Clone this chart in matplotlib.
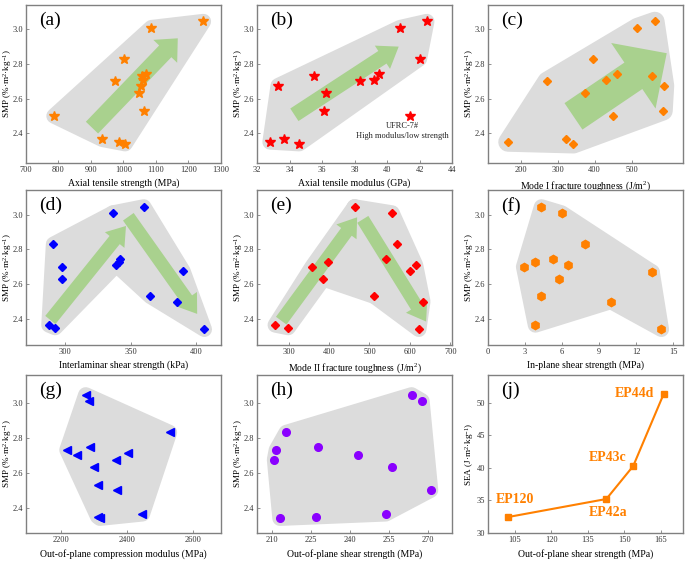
import numpy as np
import matplotlib
matplotlib.use('Agg')
import matplotlib.pyplot as plt
from matplotlib.patches import Polygon, FancyArrowPatch

plt.rcParams['font.family'] = ['Liberation Serif', 'DejaVu Serif']
plt.rcParams['mathtext.fontset'] = 'custom'
plt.rcParams['mathtext.rm'] = 'Liberation Serif'
plt.rcParams['mathtext.it'] = 'Liberation Serif:italic'
plt.rcParams['mathtext.bf'] = 'Liberation Serif:bold'

# ---------------- data ----------------
smp14 = [3.045, 3.01, 2.83, 2.745, 2.73, 2.71, 2.70, 2.675, 2.63, 2.53, 2.50, 2.365, 2.35, 2.34]

ats_a = [1246, 1086, 1003, 1068, 1056, 1059, 975, 1053, 1047, 1064, 786, 935, 986, 1005]
atm_b = [42.45, 40.8, 42.0, 39.5, 35.5, 39.2, 38.35, 33.3, 36.25, 36.15, 41.4, 33.65, 32.8, 34.6]
g1c_c = [563, 516, 397, 461, 555, 431, 272, 589, 373, 585, 450, 324, 166, 343]
ilss_d = [360, 336.5, 291, 342, 340.8, 339, 297.7, 390, 297.7, 365, 385, 287.5, 292.3, 406.3]
g2c_e = [463, 556, 568, 541, 397, 614, 358, 601, 386, 512, 632, 267, 299, 622]

smp_f = [3.045, 3.01, 2.83, 2.745, 2.73, 2.71, 2.70, 2.67, 2.63, 2.53, 2.50, 2.365, 2.34]
ips_f = [4.33, 5.97, 7.84, 5.23, 3.84, 6.47, 2.88, 13.3, 5.75, 4.27, 9.95, 3.84, 14.05]

ocm_g = [2276, 2285, 2530, 2289, 2219, 2403, 2251, 2369, 2302, 2313, 2372, 2448, 2312, 2319]

smp_h = [3.045, 3.01, 2.83, 2.745, 2.73, 2.70, 2.675, 2.63, 2.50, 2.365, 2.35, 2.34]
oss_h = [263.7, 267.7, 215.6, 227.7, 211.8, 243.3, 211.1, 256.2, 271.0, 253.8, 227.0, 213.2]

names_j = ['EP120', 'EP42a', 'EP43c', 'EP44d']
oss_j = [102.4, 142.6, 153.6, 166.1]
sea_j = [32.46, 35.23, 40.3, 51.4]

# groups of points used for the shaded regions (indices)
groups_a = [list(range(14))]
groups_b = [[i for i in range(14) if i != 10]]
groups_c = [list(range(14))]
groups_d = [[1, 2, 3, 4, 5, 6, 8, 11, 12], [0, 1, 5, 7, 9, 10, 13]]
groups_e = [[0, 4, 6, 8, 11, 12], [0, 8, 9], [0, 1, 2, 3, 5, 7, 9, 10, 13]]
groups_f = [list(range(12)), [7, 10, 12]]
groups_g = [list(range(14))]
groups_h = [list(range(12))]

GRAY = '#dcdcdc'
GREEN = '#a9d18e'
ORANGE = '#ff8000'
SPINE = '#808080'

W, H = 693, 562
fig = plt.figure(figsize=(W / 100, H / 100), dpi=100)

cols = [26, 257, 488]
rows = [(5, 163), (190, 345), (375, 533)]


def make_ax(c, r):
    l = cols[c]
    t, b = rows[r]
    ax = fig.add_axes([l / W, 1 - b / H, 195 / W, (b - t) / H])
    for s in ax.spines.values():
        s.set_color(SPINE)
        s.set_linewidth(1.0)
    ax.tick_params(direction='in', length=2.5, width=0.6, color=SPINE,
                   labelsize=6, pad=2.5, labelcolor='#333333')
    ax.tick_params(axis='y', pad=2)
    return ax


def hull(pts):
    pts = sorted(set(pts))
    if len(pts) < 3:
        return pts

    def cross(o, a, b):
        return (a[0] - o[0]) * (b[1] - o[1]) - (a[1] - o[1]) * (b[0] - o[0])
    lower = []
    for p in pts:
        while len(lower) >= 2 and cross(lower[-2], lower[-1], p) <= 0:
            lower.pop()
        lower.append(p)
    upper = []
    for p in reversed(pts):
        while len(upper) >= 2 and cross(upper[-2], upper[-1], p) <= 0:
            upper.pop()
        upper.append(p)
    return lower[:-1] + upper[:-1]


def region(ax, xs, ys, groups, pad=11):
    for g in groups:
        pts = [(xs[i], ys[i]) for i in g]
        h = hull(pts)
        ax.add_patch(Polygon(h, closed=True, fc=GRAY, ec=GRAY, lw=pad,
                             joinstyle='round', zorder=1))


def arrow(ax, p0, p1, tw, hw, hl):
    ax.add_patch(FancyArrowPatch(p0, p1,
                 arrowstyle=f'simple,head_length={hl},head_width={hw},tail_width={tw}',
                 mutation_scale=1, fc=GREEN, ec='none', zorder=2,
                 shrinkA=0, shrinkB=0))


def ylabel(ax, s):
    ax.set_ylabel(s, fontsize=6.6)
    ax.yaxis.set_label_coords(-12 / 195, 0.5)


def smp_axis(ax, r):
    lims = {0: (2.229, 3.14), 1: (2.25, 3.142), 2: (2.256, 3.158)}
    ax.set_ylim(*lims[r])
    ax.set_yticks([2.4, 2.6, 2.8, 3.0])
    ax.set_yticklabels(['2.4', '2.6', '2.8', '3.0'])
    ylabel(ax, 'SMP (%·m$^{2}$·kg$^{-1}$)')


def panel_label(ax, s):
    ax.text(0.065, 0.955, s, transform=ax.transAxes, fontsize=14,
            va='top', ha='left')


# (a)
ax = make_ax(0, 0)
region(ax, ats_a, smp14, groups_a)
arrow(ax, (903, 2.433), (1167, 2.948), 12.2, 23.8, 13)
ax.plot(ats_a, smp14, ls='none', marker='*', ms=7, color=ORANGE, zorder=3)
ax.set_xlim(700, 1300)
ax.set_xticks(range(700, 1301, 100))
ax.set_xlabel('Axial tensile strength (MPa)', fontsize=7, labelpad=3)
smp_axis(ax, 0)
panel_label(ax, '(a)')

# (b)
ax = make_ax(1, 0)
region(ax, atm_b, smp14, groups_b)
arrow(ax, (34.3, 2.507), (40.72, 2.90), 10.8, 20, 14)
ax.plot(atm_b, smp14, ls='none', marker='*', ms=7, color='#ff0000', zorder=3)
ax.text(40.95, 2.415, 'UFRC-7#\nHigh modulus/low strength', fontsize=6,
        ha='center', va='center', linespacing=1.3, color='#222222')
ax.set_xlim(32, 44)
ax.set_xticks(range(32, 45, 2))
ax.set_xlabel('Axial tensile modulus (GPa)', fontsize=7, labelpad=3)
smp_axis(ax, 0)
panel_label(ax, '(b)')

# (c)
ax = make_ax(2, 0)
region(ax, g1c_c, smp14, groups_c, pad=14)
arrow(ax, (343, 2.498), (595, 2.862), 23, 57, 29)
ax.plot(g1c_c, smp14, ls='none', marker='D', ms=4.5, color=ORANGE, zorder=3)
ax.set_xlim(112, 639)
ax.set_xticks([200, 300, 400, 500])
ax.set_xlabel('Mode I fracture toughness (J/m$^{2}$)', fontsize=7, labelpad=3)
smp_axis(ax, 0)
panel_label(ax, '(c)')

# (d)
ax = make_ax(0, 1)
region(ax, ilss_d, smp14, groups_d)
arrow(ax, (288.6, 2.394), (346.4, 2.935), 9.4, 18, 13)
arrow(ax, (348.2, 2.988), (400.8, 2.429), 9.4, 18, 13)
ax.plot(ilss_d, smp14, ls='none', marker='D', ms=4.5, color='#0000ff', zorder=3)
ax.set_xlim(270, 419)
ax.set_xticks([300, 350, 400])
ax.set_xlabel('Interlaminar shear strength (kPa)', fontsize=7, labelpad=3)
smp_axis(ax, 1)
panel_label(ax, '(d)')

# (e)
ax = make_ax(1, 1)
region(ax, g2c_e, smp14, groups_e)
arrow(ax, (281.9, 2.39), (469.5, 2.985), 9.4, 18, 13)
arrow(ax, (483.5, 2.973), (640, 2.385), 9.4, 18, 13)
ax.plot(g2c_e, smp14, ls='none', marker='D', ms=4.5, color='#ff0000', zorder=3)
ax.set_xlim(222, 704)
ax.set_xticks(range(300, 701, 100))
ax.set_xlabel('Mode II fracture toughness (J/m$^{2}$)', fontsize=7, labelpad=3)
smp_axis(ax, 1)
panel_label(ax, '(e)')

# (f)
ax = make_ax(2, 1)
region(ax, ips_f, smp_f, groups_f)
ax.plot(ips_f, smp_f, ls='none', marker='h', ms=6, color=ORANGE, zorder=3)
ax.set_xlim(0, 15.8)
ax.set_xticks(range(0, 16, 3))
ax.set_xlabel('In-plane shear strength (MPa)', fontsize=7, labelpad=3)
smp_axis(ax, 1)
panel_label(ax, '(f)')

# (g)
ax = make_ax(0, 2)
region(ax, ocm_g, smp14, groups_g)
ax.plot(ocm_g, smp14, ls='none', marker='<', ms=5.5, color='#0000ff', zorder=3)
ax.set_xlim(2095, 2686)
ax.set_xticks([2200, 2400, 2600])
ax.set_xlabel('Out-of-plane compression modulus (MPa)', fontsize=7, labelpad=3)
smp_axis(ax, 2)
panel_label(ax, '(g)')

# (h)
ax = make_ax(1, 2)
region(ax, oss_h, smp_h, groups_h)
ax.plot(oss_h, smp_h, ls='none', marker='o', ms=5.5, color='#8a00ff', zorder=3)
ax.set_xlim(204.4, 279.2)
ax.set_xticks(range(210, 271, 15))
ax.set_xlabel('Out-of-plane shear strength (MPa)', fontsize=7, labelpad=3)
smp_axis(ax, 2)
panel_label(ax, '(h)')

# (j)
ax = make_ax(2, 2)
ax.plot(oss_j, sea_j, color=ORANGE, lw=1.5, marker='s', ms=4, zorder=3)
offsets = [(4.6, 12.7), (1.2, -9.4), (-18.5, 5.8), (-20.9, 0)]
for n, x, y, off in zip(names_j, oss_j, sea_j, offsets):
    ax.annotate(n, (x, y), xytext=off, textcoords='offset points',
                ha='center', va='center', fontsize=10, fontweight='bold',
                color=ORANGE, family=['Liberation Serif'])
ax.set_xlim(94.1, 174)
ax.set_xticks(range(105, 166, 15))
ax.set_ylim(30, 54.3)
ax.set_yticks(range(30, 51, 5))
ax.set_xlabel('Out-of-plane shear strength (MPa)', fontsize=7, labelpad=3)
ylabel(ax, 'SEA (J·m$^{2}$·kg$^{-1}$)')
panel_label(ax, '(j)')

fig.savefig('out.png', dpi=100)
